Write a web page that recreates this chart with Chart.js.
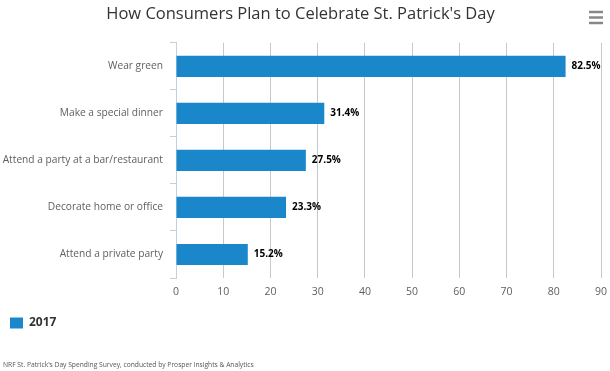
<!DOCTYPE html>
<html>
<head>
<meta charset="utf-8">
<script src="https://cdn.jsdelivr.net/npm/chart.js@4/dist/chart.umd.min.js"></script>
<style>
  html, body { margin: 0; padding: 0; background: #fff; }
  #wrap { width: 610px; height: 371px; }
</style>
</head>
<body>
<div id="wrap"><canvas id="c" width="610" height="371"></canvas></div>
<script>
const categories = ["Wear green", "Make a special dinner", "Attend a party at a bar/restaurant", "Decorate home or office", "Attend a private party"];
const values2017 = [82.5, 31.4, 27.5, 23.3, 15.2];
const seriesName = "2017";
const titleText = "How Consumers Plan to Celebrate St. Patrick's Day";
const creditText = "NRF St. Patrick's Day Spending Survey, conducted by Prosper Insights & Analytics";
const xTicks = [0, 10, 20, 30, 40, 50, 60, 70, 80, 90];

const FONT = "'Open Sans', 'Liberation Sans', sans-serif";
const BAR = '#1b87cb';

const dataLabels = {
  id: 'dataLabels',
  afterDatasetsDraw(chart) {
    const ctx = chart.ctx;
    ctx.save();
    ctx.font = 'bold 10px ' + FONT;
    ctx.fillStyle = '#000';
    ctx.textAlign = 'left';
    ctx.textBaseline = 'middle';
    chart.data.datasets.forEach((ds, di) => {
      chart.getDatasetMeta(di).data.forEach((el, i) => {
        ctx.fillText(ds.data[i].toFixed(1) + '%', el.x + 6, el.y);
      });
    });
    ctx.restore();
  }
};

const extras = {
  id: 'extras',
  afterDraw(chart) {
    const ctx = chart.ctx;
    ctx.save();
    ctx.font = '6.7px ' + FONT;
    ctx.fillStyle = '#555';
    ctx.textAlign = 'left';
    ctx.textBaseline = 'middle';
    ctx.fillText(creditText, 3, 365);
    // menu icon
    ctx.strokeStyle = '#888';
    ctx.lineWidth = 2.5;
    [12, 17.5, 23].forEach(y => {
      ctx.beginPath();
      ctx.moveTo(589, y);
      ctx.lineTo(603, y);
      ctx.stroke();
    });
    ctx.restore();
  }
};

new Chart(document.getElementById('c'), {
  type: 'bar',
  data: {
    labels: categories,
    datasets: [{
      label: seriesName,
      data: values2017,
      backgroundColor: BAR,
      borderWidth: 0,
      barPercentage: 0.45,
      categoryPercentage: 1.0
    }]
  },
  options: {
    indexAxis: 'y',
    responsive: false,
    animation: false,
    layout: { padding: { left: 0, right: 9, top: 0, bottom: 32 } },
    plugins: {
      title: {
        display: true,
        text: titleText,
        color: '#333',
        font: { family: FONT, size: 16.5, weight: 'normal', lineHeight: 1.2 },
        padding: { top: 4, bottom: 19 }
      },
      legend: {
        display: true,
        position: 'bottom',
        align: 'start',
        labels: {
          color: '#333',
          font: { family: FONT, size: 12, weight: 'bold' },
          boxWidth: 13,
          boxHeight: 11,
          padding: 10
        }
      },
      tooltip: { enabled: false }
    },
    scales: {
      x: {
        min: 0,
        max: 90,
        afterBuildTicks(scale) { scale.ticks = xTicks.map(v => ({ value: v })); },
        afterFit(scale) { scale.height = 29; scale.paddingRight = 0; scale.paddingLeft = 0; },
        ticks: { color: '#606060', font: { family: FONT, size: 10.5 }, padding: 8 },
        grid: { color: '#c8c8c8', tickLength: 0 },
        border: { display: false }
      },
      y: {
        afterFit(scale) { scale.width = 176; },
        ticks: { color: '#606060', font: { family: FONT, size: 10.2 }, padding: 7 },
        grid: { drawOnChartArea: false, color: '#C0D0E0', tickLength: 6, offset: true },
        border: { display: true, color: '#C0D0E0' }
      }
    }
  },
  plugins: [dataLabels, extras]
});
</script>
</body>
</html>
